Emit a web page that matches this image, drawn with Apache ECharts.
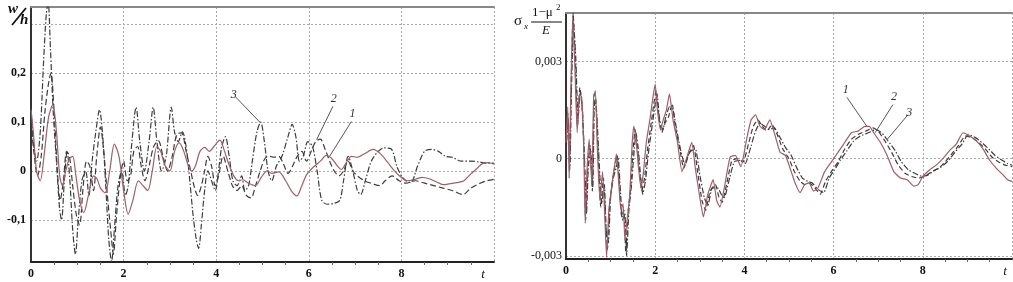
<!DOCTYPE html>
<html>
<head>
<meta charset="utf-8">
<script src="https://cdn.jsdelivr.net/npm/echarts@6/dist/echarts.min.js"></script>
<style>
  html, body { margin: 0; padding: 0; background: #fff; }
  #chart { width: 1013px; height: 282px; }
</style>
</head>
<body>
<div id="chart"></div>
<script>
// left panel: w/h, curves 1 (solid), 2 (dashed), 3 (dash-dot)
const w1 = [[0,0.125],[0.05,0.08],[0.12,0.0],[0.2,-0.02],[0.28,0.03],[0.38,0.11],[0.47,0.135],[0.55,0.08],[0.62,-0.01],[0.68,-0.03],[0.75,0.0],[0.83,0.025],[0.9,0.03],[0.97,-0.01],[1.05,-0.06],[1.14,-0.085],[1.24,-0.05],[1.35,-0.01],[1.42,-0.015],[1.5,-0.035],[1.6,-0.045],[1.7,0.0],[1.8,0.055],[1.9,0.03],[2.0,-0.04],[2.1,-0.088],[2.2,-0.06],[2.32,-0.02],[2.42,-0.03],[2.52,-0.04],[2.62,0.0],[2.72,0.05],[2.8,0.04],[2.9,0.01],[3.0,0.0],[3.1,0.04],[3.2,0.058],[3.3,0.04],[3.4,0.01],[3.47,0.0],[3.55,0.01],[3.65,0.04],[3.75,0.048],[3.85,0.04],[3.95,0.05],[4.08,0.063],[4.18,0.04],[4.28,0.012],[4.38,-0.01],[4.48,-0.02],[4.58,-0.018],[4.7,-0.025],[4.85,-0.03],[4.98,-0.012],[5.1,0.0],[5.2,-0.005],[5.35,-0.002],[5.5,-0.02],[5.62,-0.04],[5.74,-0.051],[5.85,-0.03],[5.95,-0.008],[6.1,0.008],[6.25,0.02],[6.38,0.032],[6.5,0.025],[6.62,0.01],[6.7,0.003],[6.8,0.015],[6.92,0.03],[7.05,0.028],[7.2,0.035],[7.39,0.044],[7.55,0.035],[7.7,0.018],[7.85,0.0],[7.98,-0.012],[8.12,-0.02],[8.3,-0.017],[8.45,-0.013],[8.6,-0.016],[8.75,-0.022],[8.9,-0.028],[9.05,-0.026],[9.2,-0.024],[9.35,-0.02],[9.5,-0.006],[9.62,0.004],[9.75,0.015],[9.88,0.017],[10,0.014]];
const w2 = [[0,0.1],[0.06,0.04],[0.14,-0.01],[0.22,0.03],[0.3,0.12],[0.38,0.18],[0.43,0.2],[0.5,0.12],[0.57,0.0],[0.63,-0.06],[0.7,-0.02],[0.77,0.04],[0.83,0.03],[0.9,-0.03],[0.98,-0.09],[1.05,-0.11],[1.12,-0.04],[1.2,0.02],[1.27,0.01],[1.35,-0.04],[1.42,0.03],[1.5,0.09],[1.57,0.04],[1.65,-0.05],[1.72,-0.12],[1.78,-0.17],[1.84,-0.1],[1.92,-0.02],[2.0,0.02],[2.08,-0.02],[2.15,-0.01],[2.22,0.04],[2.3,0.05],[2.38,0.01],[2.46,-0.02],[2.55,0.01],[2.65,0.05],[2.75,0.062],[2.85,0.03],[2.95,0.0],[3.05,0.03],[3.15,0.075],[3.25,0.078],[3.35,0.04],[3.45,0.0],[3.52,-0.03],[3.6,-0.05],[3.68,-0.03],[3.75,0.0],[3.82,0.03],[3.9,0.01],[3.98,-0.03],[4.05,-0.01],[4.15,0.03],[4.25,0.0],[4.35,-0.03],[4.45,-0.04],[4.55,-0.03],[4.65,-0.05],[4.75,-0.055],[4.85,-0.03],[4.95,0.0],[5.05,0.025],[5.15,0.03],[5.25,0.028],[5.35,0.03],[5.45,0.015],[5.55,-0.005],[5.65,0.01],[5.75,0.03],[5.85,0.04],[5.95,0.02],[6.05,0.04],[6.15,0.06],[6.25,0.065],[6.35,0.045],[6.45,0.02],[6.55,0.0],[6.65,-0.01],[6.75,0.0],[6.85,0.02],[6.95,0.0],[7.05,-0.01],[7.2,-0.02],[7.35,-0.025],[7.53,-0.03],[7.65,-0.02],[7.8,-0.01],[7.95,-0.02],[8.1,-0.025],[8.3,-0.02],[8.5,-0.025],[8.7,-0.03],[8.9,-0.035],[9.1,-0.04],[9.33,-0.048],[9.5,-0.035],[9.7,-0.025],[9.85,-0.02],[10,-0.017]];
const w3 = [[0,0.13],[0.06,0.05],[0.12,0.02],[0.2,0.08],[0.27,0.22],[0.33,0.32],[0.37,0.345],[0.42,0.25],[0.48,0.12],[0.55,0.02],[0.62,-0.08],[0.66,-0.1],[0.72,-0.02],[0.78,0.04],[0.84,-0.02],[0.9,-0.12],[0.96,-0.17],[1.02,-0.1],[1.1,-0.02],[1.18,0.0],[1.25,-0.05],[1.32,0.02],[1.4,0.08],[1.48,0.125],[1.55,0.07],[1.62,-0.04],[1.68,-0.14],[1.74,-0.185],[1.8,-0.12],[1.88,-0.03],[1.96,0.0],[2.04,-0.05],[2.1,-0.03],[2.18,0.06],[2.27,0.13],[2.35,0.06],[2.45,0.0],[2.55,0.06],[2.64,0.13],[2.72,0.06],[2.82,0.0],[2.92,0.03],[3.03,0.13],[3.1,0.08],[3.18,0.06],[3.27,0.08],[3.35,0.05],[3.43,-0.02],[3.5,-0.09],[3.57,-0.14],[3.62,-0.158],[3.68,-0.11],[3.75,-0.04],[3.82,0.0],[3.9,-0.02],[3.98,-0.04],[4.05,0.0],[4.12,0.05],[4.2,0.07],[4.28,0.03],[4.36,-0.02],[4.45,-0.03],[4.55,-0.01],[4.62,-0.04],[4.7,-0.03],[4.78,0.02],[4.88,0.08],[4.96,0.1],[5.04,0.06],[5.12,0.0],[5.2,-0.02],[5.3,0.01],[5.42,0.03],[5.55,0.07],[5.64,0.095],[5.72,0.07],[5.8,0.02],[5.88,0.03],[5.98,0.06],[6.08,0.05],[6.18,0.0],[6.28,-0.06],[6.4,-0.068],[6.55,-0.066],[6.67,-0.06],[6.75,-0.02],[6.85,0.03],[6.95,0.0],[7.05,-0.04],[7.12,-0.048],[7.22,-0.02],[7.35,0.02],[7.5,0.04],[7.62,0.047],[7.78,0.045],[7.9,0.01],[8.0,-0.01],[8.1,-0.02],[8.2,-0.024],[8.35,0.01],[8.5,0.04],[8.65,0.044],[8.8,0.04],[8.95,0.03],[9.1,0.028],[9.3,0.02],[9.5,0.02],[9.7,0.018],[9.85,0.016],[10,0.016]];

// right panel: sigma_x (1-mu^2)/E, values in units of 0.001
const s1 = [[0,0.5],[0.04,1.6],[0.07,-0.6],[0.1,1.5],[0.15,4.4],[0.2,2.8],[0.25,0.8],[0.3,2.0],[0.35,1.9],[0.4,0.2],[0.43,-2.0],[0.47,-0.4],[0.52,0.6],[0.58,-0.8],[0.62,1.9],[0.66,2.1],[0.7,0.4],[0.76,-1.3],[0.82,-0.4],[0.87,-1.8],[0.91,-3.05],[0.96,-1.6],[1.02,-0.9],[1.08,-0.3],[1.13,0.15],[1.18,-0.7],[1.23,-1.6],[1.28,-1.4],[1.32,-2.5],[1.37,-1.9],[1.43,-1.1],[1.48,0.4],[1.52,1.0],[1.57,0.6],[1.62,-0.2],[1.68,-0.9],[1.73,-0.5],[1.8,0.5],[1.88,1.2],[1.95,1.9],[2.0,2.3],[2.05,1.5],[2.12,0.9],[2.18,1.2],[2.25,1.5],[2.32,2.0],[2.4,1.2],[2.5,0.5],[2.6,-0.4],[2.7,0.0],[2.82,0.5],[2.9,-0.3],[3.0,-1.2],[3.08,-1.8],[3.18,-1.1],[3.3,-0.65],[3.38,-1.3],[3.45,-1.5],[3.55,-0.9],[3.68,0.05],[3.8,0.1],[3.92,-0.25],[4.05,0.6],[4.15,1.2],[4.25,1.35],[4.35,1.0],[4.45,0.9],[4.57,1.2],[4.65,0.9],[4.8,0.2],[4.92,0.1],[5.05,-0.4],[5.15,-0.8],[5.25,-1.05],[5.35,-0.8],[5.45,-0.75],[5.55,-1.0],[5.65,-0.9],[5.8,-0.4],[5.95,-0.1],[6.1,0.2],[6.25,0.5],[6.4,0.8],[6.55,0.85],[6.7,1.0],[6.8,1.0],[6.9,0.8],[7.05,0.5],[7.2,0.1],[7.35,-0.4],[7.5,-0.6],[7.65,-0.65],[7.8,-0.85],[7.9,-0.8],[8.0,-0.55],[8.15,-0.35],[8.3,-0.2],[8.45,0.0],[8.6,0.25],[8.75,0.45],[8.9,0.8],[9.05,0.7],[9.2,0.55],[9.35,0.3],[9.5,-0.05],[9.65,-0.3],[9.8,-0.5],[9.9,-0.65],[10,-0.7]];
const s2 = [[0,0.3],[0.04,1.4],[0.08,-0.4],[0.11,1.8],[0.16,4.5],[0.21,3.0],[0.26,1.0],[0.31,2.2],[0.36,1.6],[0.41,0.0],[0.44,-1.9],[0.49,-0.2],[0.54,0.4],[0.59,-1.0],[0.63,2.0],[0.67,1.8],[0.72,0.2],[0.78,-1.5],[0.84,-0.6],[0.89,-2.0],[0.93,-2.8],[0.98,-1.4],[1.04,-0.7],[1.1,-0.2],[1.15,0.1],[1.2,-0.9],[1.25,-1.8],[1.3,-1.6],[1.34,-2.9],[1.39,-1.7],[1.45,-0.9],[1.5,0.2],[1.55,0.9],[1.6,0.4],[1.65,-0.4],[1.7,-1.0],[1.76,-0.6],[1.83,0.3],[1.9,1.0],[1.97,1.7],[2.02,2.1],[2.08,1.3],[2.15,0.8],[2.22,1.1],[2.3,1.3],[2.38,1.7],[2.45,1.0],[2.55,0.3],[2.64,-0.3],[2.74,0.1],[2.86,0.4],[2.95,-0.4],[3.05,-1.3],[3.13,-1.6],[3.23,-1.0],[3.35,-0.8],[3.43,-1.2],[3.5,-1.35],[3.6,-0.8],[3.72,-0.05],[3.85,0.0],[3.97,-0.1],[4.1,0.5],[4.2,1.0],[4.3,1.2],[4.4,1.0],[4.5,0.85],[4.62,1.05],[4.72,0.8],[4.86,0.3],[5.0,0.0],[5.12,-0.4],[5.25,-0.7],[5.35,-0.8],[5.45,-0.75],[5.58,-0.9],[5.7,-1.1],[5.82,-0.7],[5.95,-0.4],[6.1,-0.1],[6.25,0.3],[6.4,0.6],[6.55,0.75],[6.72,0.85],[6.88,0.95],[7.0,0.85],[7.15,0.55],[7.3,0.2],[7.45,-0.2],[7.6,-0.45],[7.75,-0.55],[7.9,-0.6],[8.05,-0.55],[8.2,-0.4],[8.35,-0.3],[8.5,-0.1],[8.65,0.15],[8.8,0.4],[8.95,0.7],[9.1,0.65],[9.25,0.5],[9.4,0.3],[9.55,0.05],[9.7,-0.1],[9.85,-0.2],[10,-0.25]];
const s3 = [[0,0.2],[0.05,1.2],[0.09,-0.2],[0.12,2.0],[0.17,4.2],[0.22,3.1],[0.27,1.2],[0.32,2.1],[0.37,1.5],[0.42,-0.2],[0.46,-1.7],[0.5,-0.3],[0.55,0.3],[0.6,-0.9],[0.64,1.8],[0.68,1.6],[0.74,0.0],[0.8,-1.4],[0.86,-0.8],[0.9,-2.2],[0.95,-2.6],[1.0,-1.2],[1.06,-0.6],[1.12,-0.3],[1.17,0.0],[1.22,-1.0],[1.27,-1.9],[1.32,-1.7],[1.36,-3.0],[1.41,-1.6],[1.47,-0.8],[1.52,0.1],[1.57,0.8],[1.62,0.3],[1.67,-0.5],[1.72,-1.1],[1.78,-0.7],[1.85,0.2],[1.92,0.9],[1.99,1.6],[2.04,2.0],[2.1,1.2],[2.17,0.9],[2.24,1.3],[2.32,1.6],[2.4,1.5],[2.48,0.9],[2.58,0.2],[2.67,-0.2],[2.77,0.2],[2.9,0.3],[3.0,-0.5],[3.1,-1.2],[3.18,-1.45],[3.28,-0.9],[3.4,-0.9],[3.48,-1.1],[3.55,-1.2],[3.65,-0.7],[3.77,-0.1],[3.9,-0.05],[4.02,-0.15],[4.15,0.4],[4.25,0.85],[4.35,1.1],[4.45,1.0],[4.55,0.9],[4.67,0.95],[4.78,0.7],[4.92,0.35],[5.05,0.1],[5.18,-0.3],[5.3,-0.6],[5.42,-0.7],[5.52,-0.75],[5.65,-0.95],[5.78,-1.05],[5.9,-0.6],[6.02,-0.35],[6.15,-0.05],[6.3,0.25],[6.45,0.55],[6.6,0.7],[6.78,0.8],[6.95,0.9],[7.08,0.8],[7.22,0.55],[7.38,0.25],[7.52,-0.1],[7.68,-0.35],[7.82,-0.45],[7.98,-0.55],[8.12,-0.5],[8.28,-0.35],[8.42,-0.25],[8.58,-0.05],[8.72,0.2],[8.88,0.45],[9.02,0.75],[9.18,0.65],[9.32,0.5],[9.48,0.3],[9.62,0.1],[9.78,-0.05],[9.9,-0.15],[10,-0.2]];
const S_UNIT = 0.001;

const wTicks = [-0.1, 0, 0.1, 0.2, 0.3];
const sTicks = [-0.003, 0, 0.003];

const chart = echarts.init(document.getElementById("chart"));

const serif = "Liberation Serif";
const solidColor = "#9c5f6b";
const darkColor = "#3c3c3c";

function xAxis(grid, tPad) {
  return {
    type: "value", gridIndex: grid, min: 0, max: 10, interval: 2,
    axisLine: { onZero: false, lineStyle: { color: "#222", width: 2 } },
    axisTick: { show: false },
    minorTick: { show: true, splitNumber: 4, length: 3, lineStyle: { color: "#666" } },
    axisLabel: {
      color: "#111", fontFamily: serif, fontSize: 12, fontWeight: "bold", margin: 6,
      formatter: (v) => (v === 10 ? "{t|t}" : String(v)),
      rich: { t: { fontStyle: "italic", fontWeight: "normal", fontSize: 13, padding: [0, tPad, 0, 0] } },
    },
    splitLine: { show: true, lineStyle: { color: "#aaa", type: [2, 2] } },
  };
}
function topAxis(grid) {
  return {
    type: "value", gridIndex: grid, min: 0, max: 10, position: "top",
    axisLine: { onZero: false, lineStyle: { color: "#888", width: 2 } },
    axisTick: { show: false }, axisLabel: { show: false }, splitLine: { show: false },
  };
}
function mlabel() {
  return { show: true, position: "start", distance: 2, formatter: "{b}", color: "#333",
           fontFamily: serif, fontStyle: "italic", fontSize: 12 };
}
function line(name, data, xi, yi, color, type, extra) {
  return Object.assign({
    name, type: "line", xAxisIndex: xi, yAxisIndex: yi, data,
    showSymbol: false, smooth: 0.3, clip: true,
    lineStyle: { color, width: 1.2, type },
  }, extra || {});
}

const sData = (arr) => arr.map((p) => [p[0], p[1] * S_UNIT]);

chart.setOption({
  animation: false,
  grid: [
    { left: 31, right: 519, top: 7, bottom: 20 },
    { left: 566, right: 1, top: 13, bottom: 23 },
  ],
  xAxis: [xAxis(0, 22), xAxis(1, 14), topAxis(0), topAxis(1)],
  yAxis: [
    {
      type: "value", gridIndex: 0, min: -0.186, max: 0.335,
      axisLine: { show: true, onZero: false, lineStyle: { color: "#333", width: 2 } },
      axisTick: { show: false, customValues: wTicks },
      axisLabel: {
        customValues: wTicks, color: "#111", fontFamily: serif, fontSize: 12, fontWeight: "bold", margin: 5,
        formatter: (v) => (Math.abs(v - 0.3) < 1e-9 ? "" : v === 0 ? "0" : v.toFixed(1).replace(".", ",")),
      },
      splitLine: { show: true, lineStyle: { color: "#aaa", type: [2, 2] } },
    },
    {
      type: "value", gridIndex: 1, min: -0.0031, max: 0.0045,
      axisLine: { show: true, onZero: false, lineStyle: { color: "#333", width: 2 } },
      axisTick: { show: false, customValues: sTicks },
      axisLabel: {
        customValues: sTicks, color: "#111", fontFamily: serif, fontSize: 12, margin: 4,
        formatter: (v) => (v === 0 ? "0" : v.toFixed(3).replace(".", ",")),
      },
      splitLine: { show: true, lineStyle: { color: "#aaa", type: [2, 2] } },
    },
  ],
  graphic: [
    { type: "text", left: 8, top: 2, style: { text: "w", font: "italic bold 15px 'Liberation Serif'", fill: "#111" } },
    { type: "line", shape: { x1: 12, y1: 25, x2: 26, y2: 8 }, style: { stroke: "#111", lineWidth: 1.8 } },
    { type: "text", left: 20, top: 13, style: { text: "h", font: "italic bold 15px 'Liberation Serif'", fill: "#111" } },

    { type: "text", left: 514, top: 14, style: { text: "σ", font: "15px 'Liberation Serif'", fill: "#111" } },
    { type: "text", left: 524, top: 22, style: { text: "x", font: "italic 9px 'Liberation Serif'", fill: "#111" } },
    { type: "text", left: 532, top: 6, style: { text: "1−μ", font: "13px 'Liberation Serif'", fill: "#111" } },
    { type: "text", left: 556, top: 3, style: { text: "2", font: "9px 'Liberation Serif'", fill: "#111" } },
    { type: "line", shape: { x1: 531, y1: 22, x2: 562, y2: 22 }, style: { stroke: "#111", lineWidth: 1 } },
    { type: "text", left: 542, top: 24, style: { text: "E", font: "italic 13px 'Liberation Serif'", fill: "#111" } },
  ],
  series: [
    line("w3", w3, 0, 0, darkColor, [6, 2, 1.5, 2]),
    line("w2", w2, 0, 0, darkColor, [6, 3]),
    line("w1", w1, 0, 0, solidColor, "solid", {
      markLine: {
        symbol: "none", silent: true, label: mlabel(),
        lineStyle: { color: "#555", width: 1, type: "solid" },
        data: [
          [{ name: "3", coord: [4.41, 0.152] }, { coord: [4.95, 0.099] }],
          [{ name: "2", coord: [6.52, 0.132] }, { coord: [6.17, 0.064] }],
          [{ name: "1", coord: [6.92, 0.101] }, { coord: [6.45, 0.03] }],
        ],
      },
    }),
    line("s3", sData(s3), 1, 1, darkColor, [6, 2, 1.5, 2], { smooth: 0.15 }),
    line("s2", sData(s2), 1, 1, darkColor, [5, 3], { smooth: 0.15 }),
    line("s1", sData(s1), 1, 1, solidColor, "solid", {
      smooth: 0.15,
      markLine: {
        symbol: "none", silent: true, label: mlabel(),
        lineStyle: { color: "#555", width: 1, type: "solid" },
        data: [
          [{ name: "1", coord: [6.3, 0.00189] }, { coord: [6.75, 0.00099] }],
          [{ name: "2", coord: [7.33, 0.00167] }, { coord: [6.93, 0.0008] }],
          [{ name: "3", coord: [7.67, 0.00136] }, { coord: [7.2, 0.00059] }],
        ],
      },
    }),
  ],
});
</script>
</body>
</html>
